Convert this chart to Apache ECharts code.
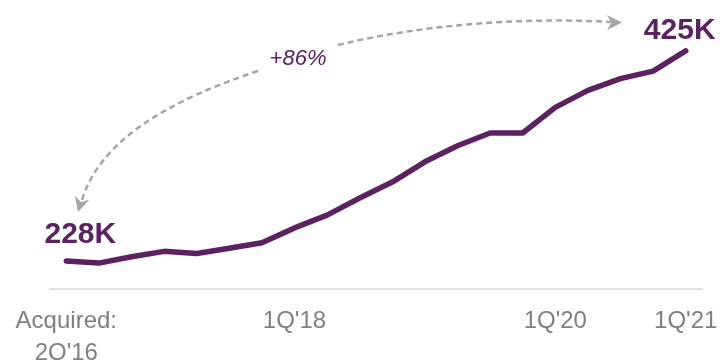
<!DOCTYPE html>
<html>
<head>
<meta charset="utf-8">
<style>
  html, body { margin: 0; padding: 0; background: #ffffff; }
  #chart { width: 722px; height: 360px; }
</style>
<script src="https://cdn.jsdelivr.net/npm/echarts@6/dist/echarts.min.js"></script>
</head>
<body>
<div id="chart"></div>
<script>
// Quarterly subscribers (thousands) since the acquisition
const quarters = [
  "2Q'16", "3Q'16", "4Q'16", "1Q'17", "2Q'17", "3Q'17", "4Q'17",
  "1Q'18", "2Q'18", "3Q'18", "4Q'18", "1Q'19", "2Q'19", "3Q'19", "4Q'19",
  "1Q'20", "2Q'20", "3Q'20", "4Q'20", "1Q'21"
];
const subscribersK = [
  228, 226, 232, 237, 235, 240, 245,
  259, 271, 287, 302, 321, 336, 348, 348,
  372, 388, 399, 406, 425
];
// Quarters that get a label under the axis
const labelledQuarters = ["2Q'16", "1Q'18", "1Q'20", "1Q'21"];
const firstLabelPrefix = "Acquired:";

const PURPLE = '#5b2160';
const GREY_TEXT = '#808080';
const ARROW = '#a6a6a6';

const lastIdx = subscribersK.length - 1;
const growthPct = Math.round((subscribersK[lastIdx] / subscribersK[0] - 1) * 100);

const chart = echarts.init(document.getElementById('chart'), null, { renderer: 'canvas' });

const valueLabel = {
  formatter: (p) => p.value + 'K',
  color: PURPLE,
  fontFamily: 'Liberation Sans, Arial, sans-serif',
  fontWeight: 'bold',
  fontSize: 30
};

chart.setOption({
  animation: false,
  grid: { left: 50, right: 20, top: 20, bottom: 71, outerBoundsMode: 'none', containLabel: false },
  xAxis: {
    type: 'category',
    data: quarters,
    boundaryGap: true,
    axisLine: { show: true, lineStyle: { color: '#d9d9d9', width: 1.5 } },
    axisTick: { show: false },
    axisLabel: {
      interval: (idx, name) => labelledQuarters.includes(name),
      formatter: (name) => name === quarters[0] ? firstLabelPrefix + '\n' + name : name,
      color: GREY_TEXT,
      fontFamily: 'Liberation Sans, Arial, sans-serif',
      fontSize: 24,
      lineHeight: 32,
      margin: 16
    }
  },
  yAxis: {
    type: 'value',
    min: 201.7,
    max: 454,
    show: false,
    splitLine: { show: false }
  },
  series: [{
    type: 'line',
    data: subscribersK,
    symbol: 'none',
    lineStyle: { color: PURPLE, width: 5.5, cap: 'round', join: 'round' },
    // First and last quarters carry their value as a label
    markPoint: {
      symbol: 'circle',
      symbolSize: 0,
      silent: true,
      data: [
        {
          coord: [quarters[0], subscribersK[0]], value: subscribersK[0],
          label: Object.assign({ position: 'top', offset: [14, -6] }, valueLabel)
        },
        {
          coord: [quarters[lastIdx], subscribersK[lastIdx]], value: subscribersK[lastIdx],
          label: Object.assign({ position: 'top', offset: [-6, 0] }, valueLabel)
        }
      ],
      label: Object.assign({ show: true }, valueLabel)
    }
  }]
});

// Dashed growth arrow with its percentage
function arrowHead(tip, angle, len, half, notch) {
  const c = Math.cos(angle), s = Math.sin(angle);
  const pt = (dx, dy) => [tip[0] + dx * c - dy * s, tip[1] + dx * s + dy * c];
  return [pt(0, 0), pt(-len, -half), pt(-len + notch, 0), pt(-len, half)];
}

const leftTip = [78, 212];
const rightTip = [622, 22.5];

chart.setOption({
  graphic: [
    {
      type: 'bezierCurve',
      shape: { x1: 258, y1: 71, cpx1: 170, cpy1: 100, cpx2: 100, cpy2: 140, x2: 82, y2: 200 },
      style: { stroke: ARROW, lineWidth: 2.5, lineDash: [6, 4], fill: null }
    },
    {
      type: 'polygon',
      shape: { points: arrowHead(leftTip, Math.atan2(21, -6), 15, 7.5, 4.5) },
      style: { fill: ARROW }
    },
    {
      type: 'bezierCurve',
      shape: { x1: 338, y1: 45, cpx1: 420, cpy1: 25, cpx2: 520, cpy2: 17, x2: 611, y2: 22 },
      style: { stroke: ARROW, lineWidth: 2.5, lineDash: [6, 4], fill: null }
    },
    {
      type: 'polygon',
      shape: { points: arrowHead(rightTip, 0, 15, 7.5, 4.5) },
      style: { fill: ARROW }
    },
    {
      type: 'text',
      x: 298, y: 59,
      style: {
        text: '+' + growthPct + '%',
        fill: PURPLE,
        font: 'italic 22px "Liberation Sans", Arial, sans-serif',
        align: 'center',
        verticalAlign: 'middle'
      }
    }
  ]
});
</script>
</body>
</html>
